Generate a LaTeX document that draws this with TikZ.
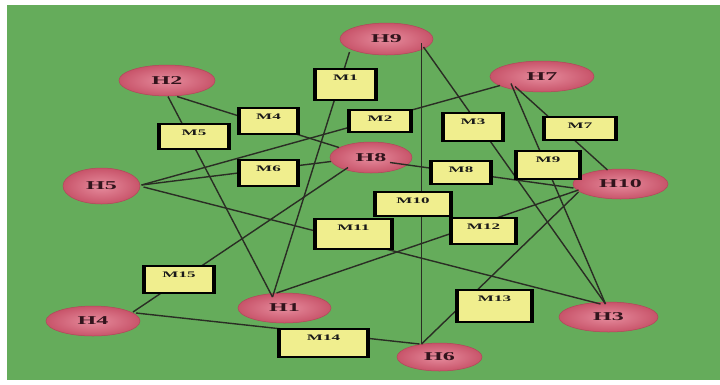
\documentclass[tikz,border=0pt]{standalone}
\usepackage{fontspec}
\setmainfont{Liberation Serif}
\usepackage{graphicx}
\usetikzlibrary{shapes.geometric,shadings}

\pgfdeclarelayer{front}
\pgfsetlayers{main,front}

\definecolor{field}{RGB}{101,172,91}
\definecolor{boxfill}{RGB}{240,238,142}
\definecolor{hubin}{RGB}{230,140,157}
\definecolor{hubout}{RGB}{200,84,106}
\definecolor{hubline}{RGB}{178,70,90}
\definecolor{wirecol}{RGB}{42,45,36}
\definecolor{hubtext}{RGB}{50,20,28}

% labels are set wide, stretched horizontally
\newcommand{\widelabel}[1]{\scalebox{2}[1]{#1}}

\tikzset{
  hub/.style={ellipse, inner sep=0pt, draw=hubline, line width=0.5pt,
    inner color=hubin, outer color=hubout, text=hubtext,
    font=\fontsize{12}{12}\selectfont\bfseries},
  mbox/.style={rectangle, draw=black, line width=1.6pt, fill=boxfill,
    inner xsep=0pt, inner ysep=6pt, text height=5.6pt, text=black!90,
    font=\fontsize{8.5}{8.5}\selectfont\bfseries,
    path picture={
      \fill[black] (path picture bounding box.south west) rectangle
        ([xshift=3pt]path picture bounding box.north west);
      \fill[black] (path picture bounding box.south east) rectangle
        ([xshift=-3pt]path picture bounding box.north east);
      \fill[black] (path picture bounding box.south west) rectangle
        ([yshift=1pt]path picture bounding box.south east);
    }},
  wire/.style={draw=wirecol, line width=1.4pt},
}

\begin{document}
\begin{tikzpicture}[x=1pt, y=-1pt]
  \useasboundingbox (0,0) rectangle (720,384);
  \fill[white] (0,0) rectangle (720,384);
  \fill[field] (7,5) rectangle (720,380);

  % H nodes
  \node[hub, minimum width=93pt,  minimum height=32pt] (H9)  at (386.5,39)  {\widelabel{H9}};
  \node[hub, minimum width=96pt,  minimum height=31pt] (H2)  at (167,80.5)  {\widelabel{H2}};
  \node[hub, minimum width=104pt, minimum height=31pt] (H7)  at (542,76.5)  {\widelabel{H7}};
  \node[hub, minimum width=82pt,  minimum height=31pt] (H8)  at (371,157.5) {\widelabel{H8}};
  \node[hub, minimum width=77pt,  minimum height=36pt] (H5)  at (101.5,186) {\widelabel{H5}};
  \node[hub, minimum width=95pt,  minimum height=30pt] (H10) at (620.5,184) {\widelabel{H10}};
  \node[hub, minimum width=93pt,  minimum height=30pt] (H1)  at (284.5,308) {\widelabel{H1}};
  \node[hub, minimum width=94pt,  minimum height=30pt] (H4)  at (93,321)    {\widelabel{H4}};
  \node[hub, minimum width=99pt,  minimum height=30pt] (H3)  at (608.5,317) {\widelabel{H3}};
  \node[hub, minimum width=85pt,  minimum height=28pt] (H6)  at (439.5,357) {\widelabel{H6}};

  % M boxes sit on the links, above them
  \begin{pgfonlayer}{front}
    \node[mbox, minimum width=63.4pt, text depth=13.8pt] (M1)  at (345.5,84.5) {\widelabel{M1}};
    \node[mbox, minimum width=61.4pt, text depth=8.8pt]  (M4)  at (268.5,121)  {\widelabel{M4}};
    \node[mbox, minimum width=72.4pt, text depth=7.8pt]  (M5)  at (194,136.5)  {\widelabel{M5}};
    \node[mbox, minimum width=64.4pt, text depth=4.8pt]  (M2)  at (380,121)    {\widelabel{M2}};
    \node[mbox, minimum width=62.4pt, text depth=10.8pt] (M3)  at (473,127)    {\widelabel{M3}};
    \node[mbox, minimum width=74.4pt, text depth=5.8pt]  (M7)  at (580,128.5)  {\widelabel{M7}};
    \node[mbox, minimum width=61.4pt, text depth=8.8pt]  (M6)  at (268.5,173)  {\widelabel{M6}};
    \node[mbox, minimum width=62.4pt, text depth=5.8pt]  (M8)  at (461,172.5)  {\widelabel{M8}};
    \node[mbox, minimum width=66.4pt, text depth=10.8pt] (M9)  at (548,165)    {\widelabel{M9}};
    \node[mbox, minimum width=78.4pt, text depth=6.8pt]  (M10) at (413,204)    {\widelabel{M10}};
    \node[mbox, minimum width=79.4pt, text depth=12.8pt] (M11) at (353.5,234)  {\widelabel{M11}};
    \node[mbox, minimum width=67.4pt, text depth=8.8pt]  (M12) at (483.5,231)  {\widelabel{M12}};
    \node[mbox, minimum width=72.4pt, text depth=9.8pt]  (M15) at (179,279.5)  {\widelabel{M15}};
    \node[mbox, minimum width=77.4pt, text depth=14.8pt] (M13) at (494.5,306)  {\widelabel{M13}};
    \node[mbox, minimum width=91.4pt, text depth=10.8pt] (M14) at (323.5,343)  {\widelabel{M14}};
  \end{pgfonlayer}

  % links between H nodes, each passing under its M box
  \draw[wire] ([shift={(1,16)}]H2.center)   -- ([shift={(-12,-11)}]H1.center);  % M5
  \draw[wire] ([shift={(10,16)}]H2.center)  -- ([shift={(-32,-10)}]H8.center);  % M4
  \draw[wire] ([shift={(-37,13)}]H9.center) -- ([shift={(-12,-11)}]H1.center);  % M1
  \draw[wire] ([shift={(35,4)}]H9.center)   -- ([shift={(-18,-13)}]H6.center);  % M10
  \draw[wire] ([shift={(37,8)}]H9.center)   -- ([shift={(-3,-13)}]H3.center);   % M3
  \draw[wire] ([shift={(-42,9)}]H7.center)  -- ([shift={(40,-1)}]H5.center);    % M2
  \draw[wire] ([shift={(-31,7)}]H7.center)  -- ([shift={(-3,-13)}]H3.center);   % M9
  \draw[wire] ([shift={(-27,10)}]H7.center) -- ([shift={(-13,-14)}]H10.center); % M7
  \draw[wire] ([shift={(40,-1)}]H5.center)  -- ([shift={(-40,4)}]H8.center);    % M6
  \draw[wire] ([shift={(42,1)}]H5.center)   -- ([shift={(-8,-13)}]H3.center);   % M11
  \draw[wire] ([shift={(-23,10)}]H8.center) -- ([shift={(40,-9)}]H4.center);    % M15
  \draw[wire] ([shift={(19,5)}]H8.center)   -- ([shift={(-47,4)}]H10.center);   % M8
  \draw[wire] ([shift={(-42,6)}]H10.center) -- ([shift={(-8,-15)}]H1.center);   % M12
  \draw[wire] ([shift={(-42,8)}]H10.center) -- ([shift={(-18,-13)}]H6.center);  % M13
  \draw[wire] ([shift={(43,-8)}]H4.center)  -- ([shift={(-20,-13)}]H6.center);  % M14
\end{tikzpicture}
\end{document}
